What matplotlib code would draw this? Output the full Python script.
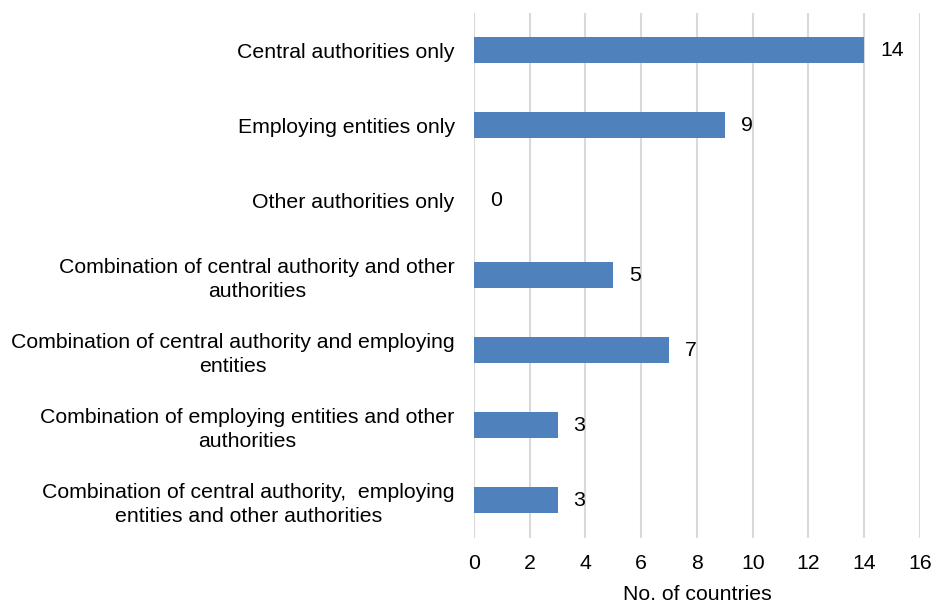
import matplotlib
matplotlib.use("Agg")
import matplotlib.pyplot as plt
import numpy as np

categories = [
    "Central authorities only",
    "Employing entities only",
    "Other authorities only",
    "Combination of central authority and other\nauthorities",
    "Combination of central authority and employing\nentities",
    "Combination of employing entities and other\nauthorities",
    "Combination of central authority,  employing\nentities and other authorities",
]
counts = [14, 9, 0, 5, 7, 3, 3]
x_ticks = [0, 2, 4, 6, 8, 10, 12, 14, 16]

plt.rcParams["font.family"] = ["Liberation Sans", "DejaVu Sans"]
FS = 15.3

fig = plt.figure(figsize=(9.34, 6.04), dpi=100)
ax = fig.add_axes([474 / 934, 1 - 537.5 / 604, 446 / 934, 525 / 604])

y = np.arange(len(categories))
ax.barh(y, counts, height=0.35, color="#4F81BD", zorder=3)

for yi, v in zip(y, counts):
    ax.annotate(str(v), (v, yi), xytext=(11.5, 0), textcoords="offset points",
                ha="left", va="center", fontsize=FS, color="black")

ax.set_xlim(0, 16)
ax.set_ylim(len(categories) - 0.5, -0.5)
ax.set_xticks(x_ticks)
ax.set_xticklabels([str(t) for t in x_ticks], fontsize=FS)
ax.set_yticks(y)
ax.set_yticklabels(categories, fontsize=FS, ha="right", multialignment="center",
                   linespacing=1.3)
ax.tick_params(axis="y", length=0, pad=14)
ax.tick_params(axis="x", length=0, pad=12)
ax.set_xlabel("No. of countries", fontsize=FS, labelpad=8.5)

ax.xaxis.grid(True, color="#D9D9D9", linewidth=1.5, zorder=0)
ax.set_axisbelow(True)
for s in ax.spines.values():
    s.set_visible(False)

fig.savefig("out.png", dpi=100)
